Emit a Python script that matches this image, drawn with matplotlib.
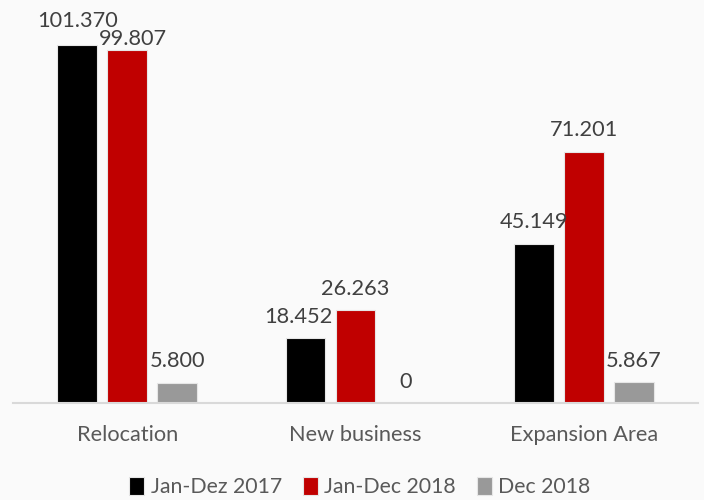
import matplotlib.pyplot as plt
import numpy as np

categories = ['Relocation', 'New business', 'Expansion Area']
series_names = ['Jan-Dez 2017', 'Jan-Dec 2018', 'Dec 2018']
jan_dez_2017 = [101.370, 18.452, 45.149]
jan_dec_2018 = [99.807, 26.263, 71.201]
dec_2018 = [5.800, 0.0, 5.867]
value_labels = [['101.370', '18.452', '45.149'],
                ['99.807', '26.263', '71.201'],
                ['5.800', '0', '5.867']]

colors = ['#000000', '#C00000', '#999999']
bg = '#FAFAFA'

plt.rcParams['font.family'] = ['Lato', 'DejaVu Sans']

fig = plt.figure(figsize=(7.04, 5.0), dpi=100, facecolor=bg)
ax = fig.add_axes([13 / 704, 97 / 500, 685 / 704, 403 / 500], facecolor=bg)

x = np.arange(len(categories))
width = 0.175
step = 0.219
# small label nudges (in points) to mimic the reference placement
nudges = {(1, 0): (4, 1), (0, 1): (-5, 8), (0, 0): (0, 10)}

for i, vals in enumerate([jan_dez_2017, jan_dec_2018, dec_2018]):
    xs = x + (i - 1) * step
    ax.bar(xs, vals, width, color=colors[i], edgecolor='#E6E6E6',
           linewidth=0.8, label=series_names[i], zorder=2)
    for j, v in enumerate(vals):
        dx, dy = nudges.get((i, j), (0, 8))
        ax.annotate(value_labels[i][j], (xs[j], v), xytext=(dx, dy),
                    textcoords='offset points', ha='center', va='bottom',
                    fontsize=15.7, color='#404040')

ax.set_xlim(-0.5, 2.5)
ax.set_ylim(0, 403 / 3.532)
ax.set_xticks(x)
ax.set_xticklabels(categories, fontsize=15.7, color='#595959')
ax.tick_params(axis='x', length=0, pad=16)
ax.set_yticks([])
for s in ['top', 'right', 'left']:
    ax.spines[s].set_visible(False)
ax.spines['bottom'].set_color('#D9D9D9')
ax.spines['bottom'].set_linewidth(1.5)

leg = fig.legend(loc='center', bbox_to_anchor=(360 / 704, 1 - 487 / 500),
                 ncol=3, frameon=False, fontsize=15.3, handlelength=0.7,
                 handleheight=0.9, handletextpad=0.3, columnspacing=1.0,
                 borderaxespad=0)
for t in leg.get_texts():
    t.set_color('#595959')

fig.savefig('out.png', dpi=100, facecolor=bg)
